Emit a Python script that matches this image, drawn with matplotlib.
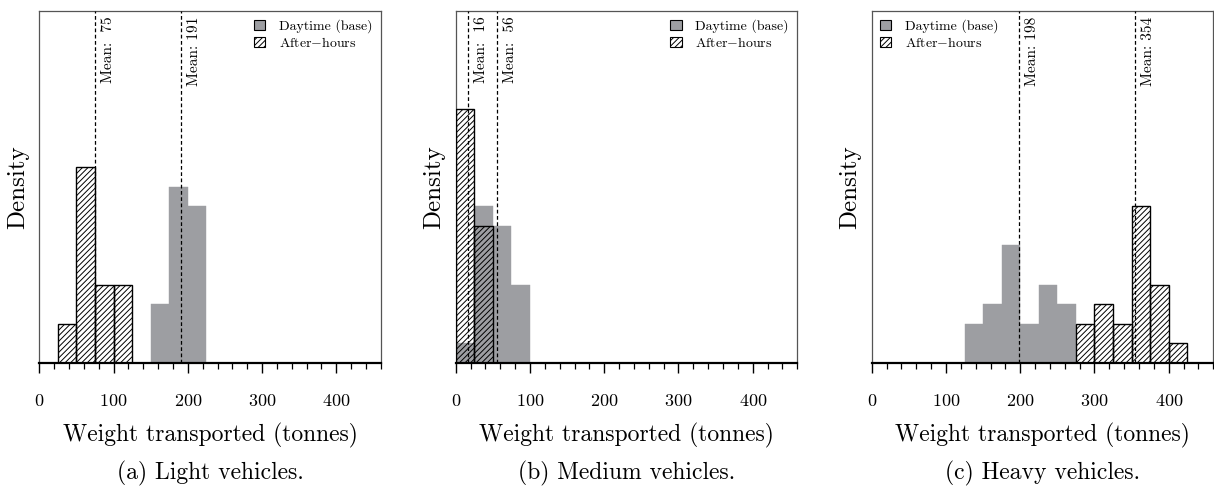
import matplotlib.pyplot as plt
import numpy as np
from matplotlib.patches import Patch

# LaTeX-like look using the Computer Modern font shipped with matplotlib
plt.rcParams["font.family"] = ["cmr10"]
plt.rcParams["mathtext.fontset"] = "cm"
plt.rcParams["axes.formatter.use_mathtext"] = True
plt.rcParams["hatch.linewidth"] = 0.7

BIN_WIDTH = 25
HATCH = "//////"

# ------------------------------------------------------------------------------
# Histogram densities per 25-tonne bin (left edges of bins)
# ------------------------------------------------------------------------------
light_day_bins = [150, 175, 200]
light_day_density = [0.006, 0.018, 0.016]
light_after_bins = [25, 50, 75, 100]
light_after_density = [0.004, 0.020, 0.008, 0.008]
light_means = [75, 191]

medium_day_bins = [0, 25, 50, 75]
medium_day_density = [0.002, 0.016, 0.014, 0.008]
medium_after_bins = [0, 25]
medium_after_density = [0.026, 0.014]
medium_means = [16, 56]

heavy_day_bins = [125, 150, 175, 200, 225, 250]
heavy_day_density = [0.004, 0.006, 0.012, 0.004, 0.008, 0.006]
heavy_after_bins = [275, 300, 325, 350, 375, 400]
heavy_after_density = [0.004, 0.006, 0.004, 0.016, 0.008, 0.002]
heavy_means = [198, 354]

captions = ["(a) Light vehicles.", "(b) Medium vehicles.", "(c) Heavy vehicles."]
legend_locs = ["upper right", "upper right", "upper left"]

panels = [
    (light_day_bins, light_day_density, light_after_bins, light_after_density, light_means),
    (medium_day_bins, medium_day_density, medium_after_bins, medium_after_density, medium_means),
    (heavy_day_bins, heavy_day_density, heavy_after_bins, heavy_after_density, heavy_means),
]

GREY = "#9d9ea2"

fig = plt.figure(figsize=(12.14, 4.87), dpi=100)
lefts = [39.3 / 1214, 455.7 / 1214, 871.7 / 1214]
width = 341.6 / 1214
bottom = (487 - 362.7) / 487
height = 351.7 / 487

for i, (day_bins, day_dens, after_bins, after_dens, means) in enumerate(panels):
    ax = fig.add_axes([lefts[i], bottom, width, height])

    ax.bar(day_bins, day_dens, width=BIN_WIDTH, align="edge",
           color=GREY, edgecolor=GREY, linewidth=0.3, zorder=2)
    ax.bar(after_bins, after_dens, width=BIN_WIDTH, align="edge",
           facecolor="none", edgecolor="black", hatch=HATCH,
           linewidth=1.0, zorder=3)

    for m in means:
        ax.axvline(m, color="black", linestyle=(0, (3, 2)), linewidth=0.9, zorder=4)
        ax.annotate(f"Mean: {m:3d}", xy=(m, 1), xycoords=("data", "axes fraction"),
                    xytext=(4.5, -4), textcoords="offset points",
                    rotation=90, ha="left", va="top", fontsize=11)

    ax.set_xlim(0, 460)
    ax.set_ylim(0, 0.036)
    ax.set_yticks([])
    ax.set_xticks([0, 100, 200, 300, 400])
    ax.set_xticks(np.arange(0, 461, 20), minor=True)
    ax.tick_params(axis="x", which="major", direction="out", length=7.5,
                   width=1.0, labelsize=13, pad=14)
    ax.tick_params(axis="x", which="minor", direction="out", length=4, width=0.9)

    for side in ["left", "top", "right"]:
        ax.spines[side].set_color("#555555")
        ax.spines[side].set_linewidth(0.9)
    ax.spines["bottom"].set_linewidth(1.6)

    ax.text(-0.0623, 0.5, "Density", transform=ax.transAxes, rotation=90,
            ha="center", va="center", fontsize=18)
    ax.text(0.5, -0.2056, "Weight transported (tonnes)", transform=ax.transAxes,
            ha="center", va="center", fontsize=17)
    ax.text(0.5, -0.333, captions[i], transform=ax.transAxes,
            ha="center", va="baseline", fontsize=17)

    handles = [
        Patch(facecolor=GREY, edgecolor="black", linewidth=0.8, label="Daytime (base)"),
        Patch(facecolor="white", edgecolor="black", hatch=HATCH, linewidth=0.8,
              label=r"After$-$hours"),
    ]
    ax.legend(handles=handles, loc=legend_locs[i], frameon=False, fontsize=10,
              handlelength=0.8, handleheight=0.8, handletextpad=1.0,
              borderaxespad=0.3, borderpad=0.3, labelspacing=0.2)

fig.savefig("out.png", dpi=100)
